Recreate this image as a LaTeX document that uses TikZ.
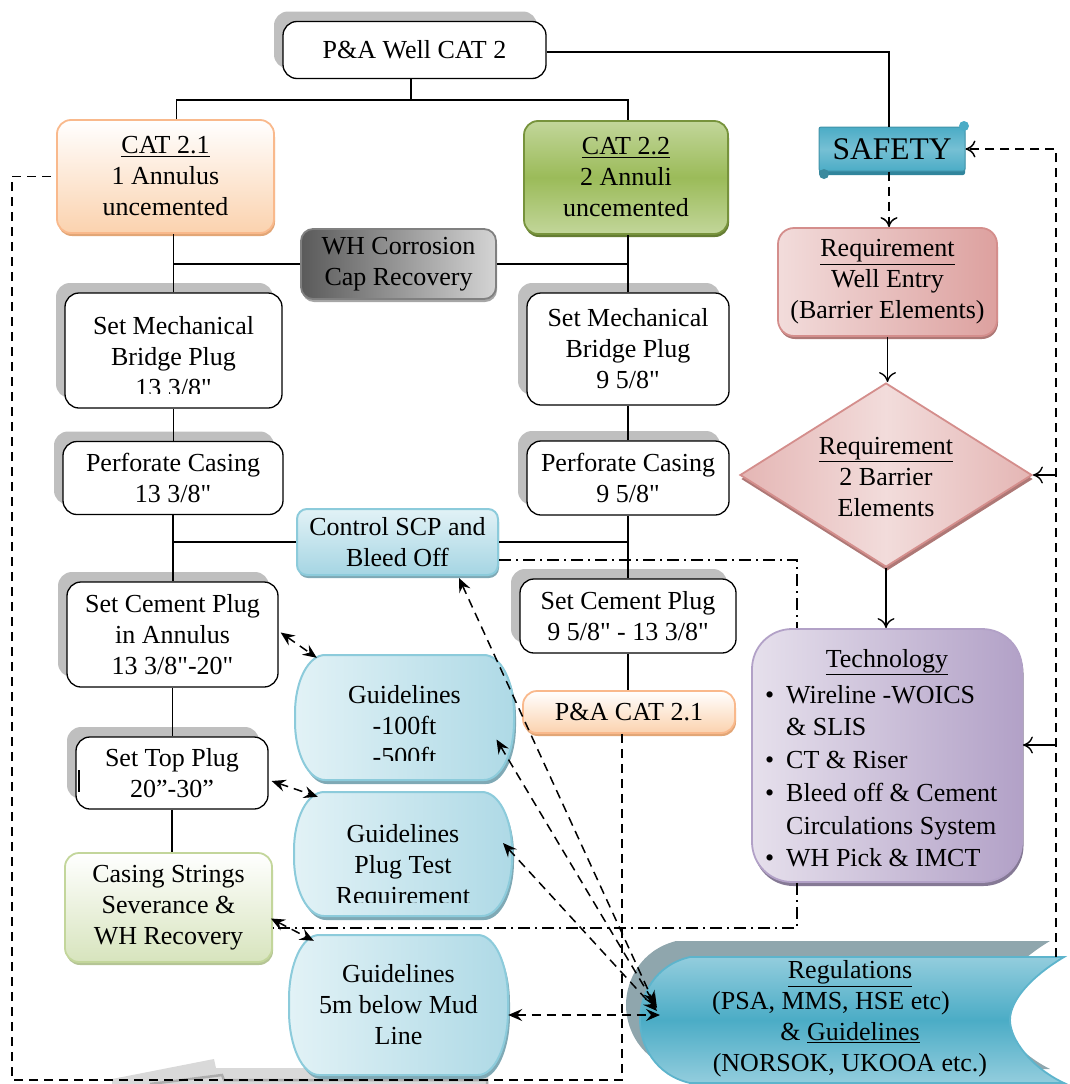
\documentclass[tikz,border=0pt]{standalone}
\usepackage{fontspec}
\setmainfont{Liberation Serif}[Ligatures=TeXOff]
\usetikzlibrary{shapes.geometric,arrows.meta,shadows,calc}

\newcommand\dfont{\fontsize{26}{31}\selectfont}
\newcommand\bigfont{\fontsize{31.5}{36}\selectfont}

% rectangle with elliptical corners: x1 y1 x2 y2 rx ry (y grows downwards)
\newcommand\ellpath[6]{({#1+#5},#2) -- ({#3-#5},#2)
  .. controls ({#3-0.448*#5},#2) and (#3,{#2+0.448*#6}) .. (#3,{#2+#6}) -- (#3,{#4-#6})
  .. controls (#3,{#4-0.448*#6}) and ({#3-0.448*#5},#4) .. ({#3-#5},#4) -- ({#1+#5},#4)
  .. controls ({#1+0.448*#5},#4) and (#1,{#4-0.448*#6}) .. (#1,{#4-#6}) -- (#1,{#2+#6})
  .. controls (#1,{#2+0.448*#6}) and ({#1+0.448*#5},#2) .. ({#1+#5},#2) -- cycle}

\definecolor{shgray}{HTML}{BFBFBF}
\definecolor{orgBorder}{HTML}{F9B98C}
\definecolor{orgFill}{HTML}{FBD2AE}
\definecolor{orgShadow}{HTML}{E2A676}
\definecolor{grnTop}{HTML}{C2D69A}
\definecolor{grnMid}{HTML}{9BBB59}
\definecolor{grnBorder}{HTML}{77933C}
\definecolor{lgrnFill}{HTML}{D7E4BD}
\definecolor{lgrnBorder}{HTML}{C3D69B}
\definecolor{lblue}{HTML}{E2F2F6}
\definecolor{mblue}{HTML}{A5D5E3}
\definecolor{bBorder}{HTML}{8CCBDB}
\definecolor{bShadow}{HTML}{7FA9B5}
\definecolor{tealMain}{HTML}{4BACC6}
\definecolor{tealLight}{HTML}{93CDDD}
\definecolor{tealDark}{HTML}{31859C}
\definecolor{pinkLight}{HTML}{F2DCDB}
\definecolor{pinkDark}{HTML}{D99694}
\definecolor{pinkBorder}{HTML}{D48E8C}
\definecolor{purLight}{HTML}{E6E0EC}
\definecolor{purDark}{HTML}{B2A1C7}
\definecolor{greyDark}{HTML}{5A5A5A}
\definecolor{greyLight}{HTML}{D4D4D4}
\definecolor{regShadow}{HTML}{8FA6AD}

\tikzset{
  every node/.style={font=\dfont, align=center, inner sep=0pt, text=black},
  plainbox/.style={draw=black, line width=1.3pt, fill=white, rounded corners=14pt,
    general shadow={shadow xshift=-9pt, shadow yshift=10pt, fill=shgray}},
  orangebox/.style={draw=orgBorder, line width=1.8pt, top color=white, bottom color=orgFill,
    rounded corners=14pt, drop shadow={shadow xshift=1pt, shadow yshift=-3pt, fill=orgShadow, opacity=1}},
  greenbox/.style={draw=grnBorder, line width=1.8pt, top color=grnTop, bottom color=grnTop,
    middle color=grnMid, rounded corners=14pt,
    drop shadow={shadow xshift=1pt, shadow yshift=-3pt, fill=grnBorder!85!black, opacity=1}},
  lgreenbox/.style={draw=lgrnBorder, line width=1.8pt, top color=white, bottom color=lgrnFill,
    rounded corners=14pt, drop shadow={shadow xshift=1pt, shadow yshift=-3pt, fill=lgrnBorder!80!gray, opacity=1}},
  controlbox/.style={draw=bBorder, line width=2pt, top color=lblue, bottom color=mblue,
    rounded corners=10pt, drop shadow={shadow xshift=1pt, shadow yshift=-3pt, fill=bShadow, opacity=1}},
  guidefill/.style={draw=bBorder, line width=2pt, left color=lblue, right color=mblue!85!lblue},
  guideshadow/.style={fill=bShadow},
  greybox/.style={draw=gray, line width=1.8pt, left color=greyDark, right color=greyLight,
    rounded corners=12pt, drop shadow={shadow xshift=1pt, shadow yshift=-3pt, fill=gray!70, opacity=1}},
  pinkbox/.style={draw=pinkBorder, line width=1.8pt, left color=pinkLight, right color=pinkDark!85!pinkLight,
    rounded corners=16pt, drop shadow={shadow xshift=1pt, shadow yshift=-3pt, fill=pinkDark!80!black, opacity=1}},
  diamondbox/.style={shape=diamond, draw=pinkBorder, line width=1.8pt, left color=pinkDark!55!pinkLight,
    right color=pinkDark!55!pinkLight, middle color=pinkLight,
    drop shadow={shadow xshift=1pt, shadow yshift=-4pt, fill=pinkDark!80!black, opacity=1}},
  purplebox/.style={draw=purDark, line width=1.8pt, left color=purLight, right color=purDark,
    rounded corners=40pt, drop shadow={shadow xshift=1.5pt, shadow yshift=-4pt, fill=purDark!75!black, opacity=1}},
  safetybox/.style={draw=tealMain!85!black, line width=1pt, top color=tealMain, bottom color=tealMain,
    middle color=tealLight!60!tealMain, rounded corners=2pt,
    drop shadow={shadow xshift=0pt, shadow yshift=-4pt, fill=tealDark, opacity=1}},
  frame/.style={inner sep=0pt},
  conn/.style={line width=1.4pt},
  dashln/.style={line width=1.5pt, dash pattern=on 9pt off 6pt},
  ddot/.style={line width=1.3pt, dash pattern=on 12pt off 5pt on 2pt off 5pt},
  cmtip/.style={-{Computer Modern Rightarrow[length=10pt,width=17pt]}},
  dbltip/.style={{Stealth[length=14pt,width=12pt,inset=5pt]}-{Stealth[length=14pt,width=12pt,inset=5pt]}}
}

\begin{document}
\begin{tikzpicture}[x=1pt,y=-1pt]
\useasboundingbox (0,0) rectangle (1069,1084);

% ---------- grey sliver at the bottom edge ----------
\fill[gray!30] (112,1079) -- (214,1059) -- (216,1068) -- (488,1068) -- (488,1084) -- (112,1084) -- cycle;
\draw[gray!65, line width=2.5pt] (150,1084) -- (222,1075) -- (224,1080) -- (487,1080) -- (487,1084);

% ---------- main column boxes ----------
\node[plainbox, minimum width=263pt, minimum height=57pt] (PAwell) at (414.5,50) {P\&A Well CAT 2};

\node[orangebox, minimum width=217pt, minimum height=113pt] (CAT21) at (165.5,176.5)
  {\underline{CAT 2.1}\\1 Annulus\\uncemented};
\node[greenbox, minimum width=204pt, minimum height=113pt] (CAT22) at (626,177.5)
  {\underline{CAT 2.2}\\2 Annuli\\uncemented};

\node[greybox, minimum width=195pt, minimum height=70pt] (WH) at (398.5,264) {WH Corrosion\\Cap Recovery};

% left chain
\node[plainbox, minimum width=217pt, minimum height=115pt] (SetMech1) at (173.5,350.5) {};
\begin{scope}
  \clip (65,290) rectangle (282,393);
  \node (SetMechOneTxt) at (173.5,357) {Set Mechanical\\Bridge Plug\\13 3/8"};
\end{scope}
\node[plainbox, minimum width=220pt, minimum height=73pt] (Perf1) at (173,478) {Perforate Casing\\13 3/8"};
\node[controlbox, minimum width=201pt, minimum height=66pt] (ControlSCP) at (397.5,542) {Control SCP and\\Bleed Off};
\node[plainbox, minimum width=211pt, minimum height=105pt] (SetCement1) at (172.5,634.5)
  {Set Cement Plug\\in Annulus\\13 3/8"-20"};
\node[plainbox, minimum width=192pt, minimum height=72pt] (SetTop) at (172,773) {Set Top Plug\\20”-30”};
\draw[line width=2pt] (79,770) -- (79,792);
\node[lgreenbox, minimum width=207pt, minimum height=109pt] (Casing) at (168.5,907.5)
  {Casing Strings\\Severance \&\\WH Recovery};

% right chain
\node[plainbox, minimum width=202pt, minimum height=112pt] (SetMech2) at (628,349) {Set Mechanical\\Bridge Plug\\9 5/8"};
\node[plainbox, minimum width=202pt, minimum height=74pt] (Perf2) at (628,478) {Perforate Casing\\9 5/8"};
\node[plainbox, minimum width=216pt, minimum height=74pt] (SetCement2) at (628,616) {Set Cement Plug\\9 5/8" - 13 3/8"};
\node[orangebox, minimum width=212pt, minimum height=42pt] (PAcat21) at (629,712) {P\&A CAT 2.1};

% guideline boxes (elliptical-cornered panels)
\fill[guideshadow] \ellpath{297}{659}{516}{784}{30}{58};
\shade[guidefill] \ellpath{295}{655}{514}{780}{30}{58};
\node[frame, minimum width=219pt, minimum height=125pt] (G1) at (404.5,717.5) {};
\begin{scope}
  \clip (295,650) rectangle (514,760);
  \node (GOneTxt) at (404.5,726) {Guidelines\\-100ft\\-500ft};
\end{scope}

\fill[guideshadow] \ellpath{296}{796}{514}{920}{30}{58};
\shade[guidefill] \ellpath{294}{792}{512}{916}{30}{58};
\node[frame, minimum width=218pt, minimum height=124pt] (G2) at (403,854) {};
\begin{scope}
  \clip (294,790) rectangle (512,902);
  \node (GTwoTxt) at (403,867) {Guidelines\\Plug Test\\Requirement};
\end{scope}

\fill[guideshadow] \ellpath{291}{939}{510}{1079}{30}{64};
\shade[guidefill] \ellpath{289}{935}{508}{1075}{30}{64};
\node[frame, minimum width=219pt, minimum height=140pt] (G3) at (398.5,1005) {Guidelines\\5m below Mud\\Line};

% ---------- safety column ----------
\node[safetybox, minimum width=146pt, minimum height=44pt] (SAFETY) at (892,149) {\bigfont SAFETY};
\fill[tealMain] (964,126) circle (5pt);
\fill[tealMain!80!black] (824,174) circle (5pt);

\node[pinkbox, minimum width=219pt, minimum height=108pt] (ReqWell) at (887.5,282)
  {\underline{Requirement}\\Well Entry\\(Barrier Elements)};
\node[diamondbox, minimum width=292pt, minimum height=184pt] (Diamond) at (886,475) {};
\node (DiamondTxt) at (886,477) {\underline{Requirement}\\2 Barrier\\Elements};

\node[purplebox, minimum width=270pt, minimum height=253pt] (Technology) at (887,755.5) {};
\node (TechTitle) at (887,662) {\underline{Technology}};
\node[anchor=north west, align=left, font=\fontsize{26}{32.7}\selectfont] (TechList) at (765,685)
  {\makebox[21pt][l]{\textbullet}Wireline -WOICS\\
   \hspace*{21pt}\& SLIS\\
   \makebox[21pt][l]{\textbullet}CT \& Riser\\
   \makebox[21pt][l]{\textbullet}Bleed off \& Cement\\
   \hspace*{21pt}Circulations System\\
   \makebox[21pt][l]{\textbullet}WH Pick \& IMCT};

% ---------- regulations banner ----------
\fill[regShadow] (676,941) -- (1050,941) .. controls (1018,960) and (996,985) .. (996,1005)
  .. controls (996,1025) and (1018,1053) .. (1050,1069) -- (676,1069)
  .. controls (641,1060) and (626,1030) .. (626,1005) .. controls (626,980) and (641,950) .. (676,941) -- cycle;
\shade[top color=tealLight, bottom color=tealLight, middle color=tealMain, draw=tealMain!90!white, line width=1.8pt]
  (690,957) -- (1064,957) .. controls (1032,976) and (1010,1000) .. (1010,1020)
  .. controls (1010,1040) and (1032,1068) .. (1064,1083) -- (690,1083)
  .. controls (655,1075) and (640,1045) .. (640,1020) .. controls (640,995) and (655,965) .. (690,957) -- cycle;
\node (RegTxt) at (850,1019) {\underline{Regulations}\\(PSA, MMS, HSE etc)\rule{38pt}{0pt}\\\& \underline{Guidelines}\\(NORSOK, UKOOA etc.)};
\coordinate (regtip) at (657,1010);

% ---------- solid connectors ----------
\coordinate (split) at (411,100);
\draw[conn] (PAwell.south -| split) -- (split);
\draw[conn] ($(CAT21.north)+(11,0)$) |- (split) -| ($(CAT22.north)+(2,0)$);
\draw[conn] ($(PAwell.east)+(0,2)$) -| ($(SAFETY.north)+(-3,0)$);
\draw[conn] (SetMech1.north) -- (SetMech1.north |- CAT21.south);
\draw[conn] (WH.west) -- (WH.west -| SetMech1.north);
\draw[conn] (SetMech2.north) -- (SetMech2.north |- CAT22.south);
\draw[conn] (WH.east) -- (WH.east -| SetMech2.north);
\draw[conn] (SetMech1.south) -- (SetMech1.south |- Perf1.north);
\draw[conn] (Perf1.south) -- (Perf1.south |- SetCement1.north);
\draw[conn] (ControlSCP.west) -- (ControlSCP.west -| Perf1.south);
\draw[conn] (SetMech2.south) -- (SetMech2.south |- Perf2.north);
\draw[conn] (Perf2.south) -- (Perf2.south |- SetCement2.north);
\draw[conn] (ControlSCP.east) -- (ControlSCP.east -| Perf2.south);
\draw[conn] (SetCement1.south) -- (SetCement1.south |- SetTop.north);
\draw[conn] (SetTop.south) -- (SetTop.south |- Casing.north);
\draw[conn] (SetCement2.south) -- (SetCement2.south |- PAcat21.north);
\draw[conn, cmtip] (ReqWell.south) -- (ReqWell.south |- Diamond.north);
\draw[conn, cmtip] (Diamond.south) -- (Diamond.south |- Technology.north);

% ---------- dashed connectors ----------
\draw[dashln, cmtip] ($(SAFETY.south)+(-3,0)$) -- ($(SAFETY.south |- ReqWell.north)+(-3,0)$);
\coordinate (rbase) at (1056,957);
\draw[dashln, cmtip] (rbase) |- (SAFETY.east);
\coordinate (rmidA) at (1056,475);
\coordinate (rmidB) at (1056,745);
\draw[conn, cmtip] (rmidA) -- (Diamond.east);
\draw[conn, cmtip] (rmidB) -- (rmidB -| Technology.east);

\coordinate (loopcorner) at (12,1080);
\draw[dashln] ($(PAcat21.south)+(-7,0)$) |- (loopcorner) |- (CAT21.west);

% dash-dot links to the technology box
\coordinate (ddcol) at (797,0);
\coordinate (ddrow) at (0,928);
\draw[ddot] ($(ControlSCP.east)+(0,18)$) -| (ddcol |- Technology.north);
\draw[ddot] (ddcol |- Technology.south) |- (Casing.east |- ddrow);

% guideline links
\draw[dashln, dbltip] ($(SetCement1.east)+(2,-2)$) -- ($(G1.north west)+(22,3)$);
\draw[dashln, dbltip] ($(SetTop.east)+(3,8)$) -- ($(G2.north west)+(24,5)$);
\draw[dashln, dbltip] ($(Casing.east)+(-2,11)$) -- ($(G3.north west)+(25,6)$);

% regulation links
\draw[dashln, dbltip] ($(ControlSCP.south east)+(-40,2)$) -- ($(regtip)+(-2,-5)$);
\draw[dashln, dbltip] ($(G1.center)+(92,22)$) -- ($(regtip)+(0,-2)$);
\draw[dashln, dbltip] ($(G2.center)+(100,-11)$) -- ($(regtip)+(0,1)$);
\draw[dashln, dbltip] ($(G3.east)+(0,10)$) -- ($(regtip)+(3,5)$);

\end{tikzpicture}
\end{document}
